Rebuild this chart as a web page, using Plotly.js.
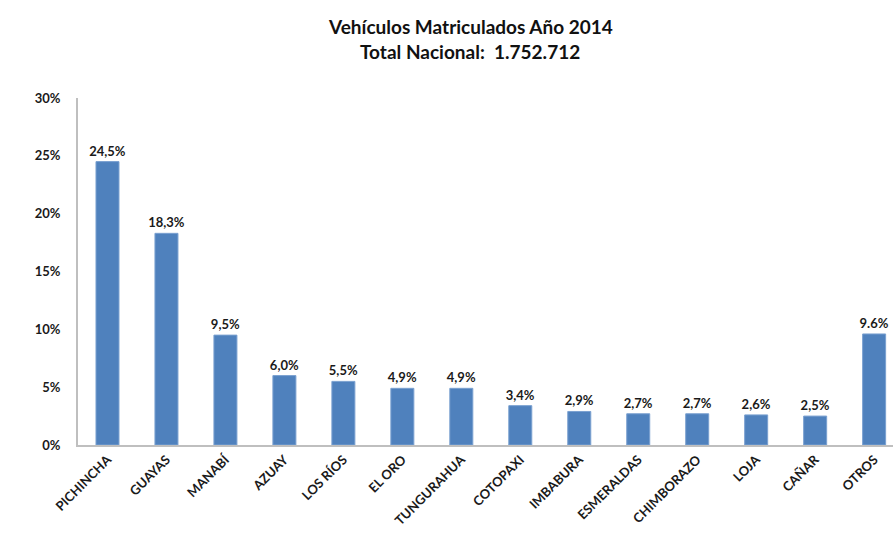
<!DOCTYPE html>
<html><head><meta charset="utf-8">
<script src="https://cdn.plot.ly/plotly-3.0.1.min.js"></script>
<style>html,body{margin:0;padding:0;background:#fff;}#chart{width:893px;height:534px;}</style>
</head><body><div id="chart"></div>
<script>
const categories = ["PICHINCHA","GUAYAS","MANABÍ","AZUAY","LOS RÍOS","EL ORO","TUNGURAHUA","COTOPAXI","IMBABURA","ESMERALDAS","CHIMBORAZO","LOJA","CAÑAR","OTROS"];
const values = [24.5,18.3,9.5,6.0,5.5,4.9,4.9,3.4,2.9,2.7,2.7,2.6,2.5,9.6];
const valueLabels = ["24,5%","18,3%","9,5%","6,0%","5,5%","4,9%","4,9%","3,4%","2,9%","2,7%","2,7%","2,6%","2,5%","9.6%"];
const titleLines = ["Vehículos Matriculados Año 2014","Total Nacional:  1.752.712"];
const yTicks = [0,5,10,15,20,25,30];

const font = "Lato, 'Open Sans', sans-serif";
const trace = {
  type: "bar",
  x: categories.map((c,i)=>i),
  y: values,
  text: valueLabels,
  textposition: "outside",
  texttemplate: "<b>%{text}</b>",
  textfont: {family: font, size: 13, color: "#1a1a1a"},
  constraintext: "none",
  cliponaxis: false,
  marker: {color: "#4f81bd", line: {color: "#7aa0d0", width: 1}},
  width: 0.39,
  hoverinfo: "none"
};
// plot area: top 98px, bottom 445px (height 347)
const plotTop = 98, plotH = 347;
const lineY = [27, 52];
const layout = {
  width: 893, height: 534,
  margin: {l: 78, r: 0, t: plotTop, b: 534 - plotTop - plotH},
  paper_bgcolor: "#fff", plot_bgcolor: "#fff",
  showlegend: false,
  annotations: titleLines.map((t, i) => ({
    text: "<b>" + t + "</b>",
    xref: "paper", yref: "paper",
    x: 0.481, xanchor: "center",
    y: 1 + (plotTop - lineY[i]) / plotH, yanchor: "middle",
    showarrow: false,
    font: {family: font, size: 19, color: "#111"}
  })),
  xaxis: {
    range: [-0.5, 13.32],
    tickmode: "array",
    tickvals: categories.map((c,i)=>i),
    ticktext: categories.map(c=>"<b>"+c+"</b>"),
    tickangle: -45,
    tickfont: {family: font, size: 13, color: "#1a1a1a"},
    showline: true, linecolor: "#bfbfbf", linewidth: 2,
    showgrid: false, zeroline: false, ticks: "", fixedrange: true
  },
  yaxis: {
    range: [0, 30],
    tickmode: "array",
    tickvals: yTicks,
    ticktext: yTicks.map(v=>"<b>"+v+"%</b>"),
    tickfont: {family: font, size: 13, color: "#1a1a1a"},
    showline: true, linecolor: "#bfbfbf", linewidth: 2,
    showgrid: false, zeroline: false,
    ticks: "outside", ticklen: 13, tickcolor: "rgba(0,0,0,0)",
    fixedrange: true
  }
};
Plotly.newPlot("chart", [trace], layout, {staticPlot: true});
</script></body></html>
